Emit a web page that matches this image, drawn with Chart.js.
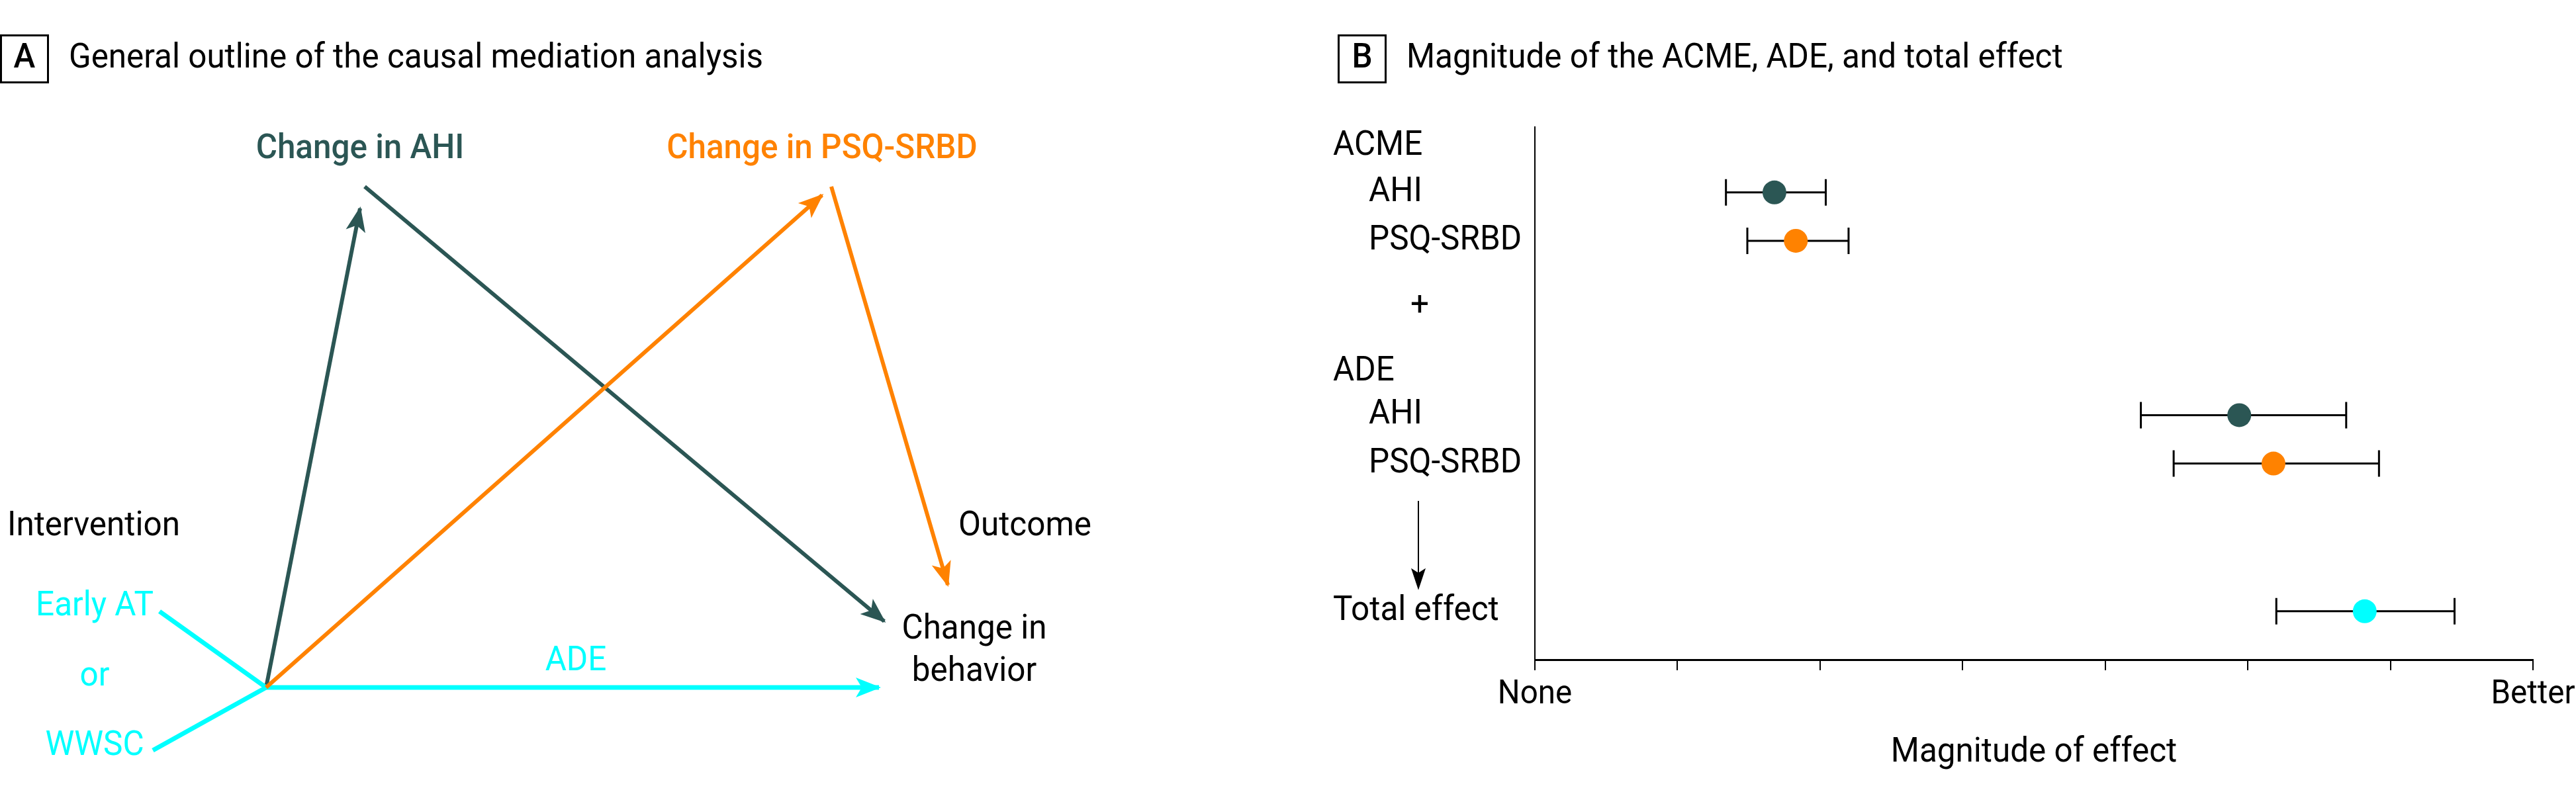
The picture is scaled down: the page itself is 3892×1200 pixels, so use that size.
<!DOCTYPE html>
<html>
<head>
<meta charset="utf-8">
<title>Causal mediation analysis</title>
<script src="https://cdn.jsdelivr.net/npm/chart.js@4.4.1/dist/chart.umd.min.js"></script>
<style>
  html, body { margin: 0; padding: 0; background: #fff; }
  #wrap { position: relative; width: 3892px; height: 1200px; overflow: hidden; }
  canvas { position: absolute; top: 0; }
  #panelA { left: 0; }
  #panelB { left: 1950px; }
</style>
</head>
<body>
<div id="wrap">
  <canvas id="panelA" width="1950" height="1200"></canvas>
  <canvas id="panelB" width="1942" height="1200"></canvas>
</div>
<script>
// --- DATA: panel A, paths of the mediation diagram (diagram units) ---
const pathNames = ['Early AT', 'WWSC', 'ADE', 'Intervention to AHI', 'AHI to behavior', 'Intervention to PSQ-SRBD', 'PSQ-SRBD to behavior'];
const pathFromX = [241, 231, 402, 402, 551, 402, 1256];
const pathFromY = [924, 1134, 1039, 1039, 282, 1039, 282];
const pathToX = [402, 402, 1328, 544, 1336, 1242, 1432];
const pathToY = [1039, 1039, 1039, 315, 939, 295, 884];

// --- DATA: panel B, effect estimates with intervals ---
const rowLabels = ['ACME', 'AHI', 'PSQ-SRBD', '+', 'ADE', 'AHI', 'PSQ-SRBD', 'Total effect'];
const rowPos = [0.4, 1.35, 2.35, 3.7, 5.05, 5.95, 6.95, 10.0];
const effectRow = [1, 2, 5, 6, 7];
const estimate = [1.68, 1.83, 4.94, 5.18, 5.82];
const lower = [1.34, 1.49, 4.25, 4.48, 5.20];
const upper = [2.04, 2.20, 5.69, 5.92, 6.45];
const tickLabels = ['None', '', '', '', '', '', '', 'Better'];

// --- STYLE ---
const TEAL = '#2b5654';
const ORANGE = '#ff8200';
const CYAN = '#00ffff';
const FONT = 'Roboto, "Liberation Sans", sans-serif';
const pathColor = [CYAN, CYAN, CYAN, TEAL, TEAL, ORANGE, ORANGE];
const pathWidth = [7, 7, 7, 6, 6, 6, 6];
const pathArrow = [false, false, true, true, true, true, true];
const effectColor = [TEAL, ORANGE, TEAL, ORANGE, CYAN];

// condensed lettering: squeeze a normal face to the width of the reference titles
const probe = document.createElement('canvas').getContext('2d');
probe.font = `400 52px ${FONT}`;
const squeeze = 1049 / probe.measureText('General outline of the causal mediation analysis').width;

function label(ctx, str, x, y, o = {}) {
  ctx.save();
  ctx.font = `${o.weight || 400} ${o.size || 52}px ${FONT}`;
  ctx.fillStyle = o.color || '#000';
  ctx.textAlign = o.align || 'left';
  ctx.textBaseline = 'middle';
  ctx.translate(x, y);
  ctx.scale(squeeze, 1);
  ctx.fillText(str, 0, 0);
  ctx.restore();
}

function panelTitle(ctx, letter, boxX, text) {
  ctx.save();
  ctx.strokeStyle = '#000';
  ctx.lineWidth = 3;
  ctx.strokeRect(boxX + 1.5, 53.5, 71, 71);
  ctx.restore();
  label(ctx, letter, boxX + 37, 89, { align: 'center', weight: 500 });
  label(ctx, text, boxX + 104, 89);
}

function arrowHead(ctx, x0, y0, x1, y1, len, half, notch, color) {
  const a = Math.atan2(y1 - y0, x1 - x0);
  ctx.save();
  ctx.translate(x1, y1);
  ctx.rotate(a);
  ctx.beginPath();
  ctx.moveTo(3, 0);
  ctx.lineTo(-len, -half);
  ctx.lineTo(-len + notch, 0);
  ctx.lineTo(-len, half);
  ctx.closePath();
  ctx.fillStyle = color;
  ctx.fill();
  ctx.restore();
}

// --- PANEL A ---
const diagramLabels = [
  { text: 'Change in AHI', x: 544, y: 226, align: 'center', color: TEAL, weight: 500 },
  { text: 'Change in PSQ-SRBD', x: 1242, y: 226, align: 'center', color: ORANGE, weight: 500 },
  { text: 'Intervention', x: 11, y: 796 },
  { text: 'Outcome', x: 1448, y: 796 },
  { text: 'Change in', x: 1472, y: 952, align: 'center' },
  { text: 'behavior', x: 1472, y: 1016, align: 'center' },
  { text: 'Early AT', x: 143, y: 917, align: 'center', color: CYAN },
  { text: 'or', x: 143, y: 1023, align: 'center', color: CYAN },
  { text: 'WWSC', x: 143, y: 1128, align: 'center', color: CYAN },
  { text: 'ADE', x: 870, y: 1000, align: 'center', color: CYAN }
];

const diagramPlugin = {
  id: 'diagram',
  afterDatasetsDraw(chart) {
    const { ctx, scales: { x, y } } = chart;
    pathNames.forEach((n, i) => {
      if (!pathArrow[i]) return;
      arrowHead(ctx,
        x.getPixelForValue(pathFromX[i]), y.getPixelForValue(pathFromY[i]),
        x.getPixelForValue(pathToX[i]), y.getPixelForValue(pathToY[i]),
        35, 15, 9, pathColor[i]);
    });
    diagramLabels.forEach(l => {
      label(ctx, l.text, x.getPixelForValue(l.x), y.getPixelForValue(l.y), l);
    });
    panelTitle(ctx, 'A', 0, 'General outline of the causal mediation analysis');
  }
};

new Chart(document.getElementById('panelA'), {
  type: 'scatter',
  data: {
    datasets: pathNames.map((n, i) => ({
      label: n,
      data: [{ x: pathFromX[i], y: pathFromY[i] }, { x: pathToX[i], y: pathToY[i] }],
      showLine: true,
      borderColor: pathColor[i],
      borderWidth: pathWidth[i],
      borderCapStyle: 'butt',
      pointRadius: 0,
      order: pathColor[i] === ORANGE ? 0 : 1
    }))
  },
  options: {
    responsive: false,
    animation: false,
    events: [],
    layout: { padding: 0 },
    plugins: { legend: { display: false }, tooltip: { enabled: false } },
    scales: {
      x: { type: 'linear', display: false, min: 0, max: 1950 },
      y: { type: 'linear', display: false, min: 0, max: 1200, reverse: true }
    }
  },
  plugins: [diagramPlugin]
});

// --- PANEL B ---
const forestPlugin = {
  id: 'forest',
  beforeDatasetsDraw(chart) {
    const { ctx, scales: { x, y } } = chart;
    ctx.save();
    ctx.strokeStyle = '#000';
    ctx.lineWidth = 3;
    estimate.forEach((v, i) => {
      const py = y.getPixelForValue(rowPos[effectRow[i]]);
      const x0 = x.getPixelForValue(lower[i]);
      const x1 = x.getPixelForValue(upper[i]);
      ctx.beginPath();
      ctx.moveTo(x0, py); ctx.lineTo(x1, py);
      ctx.moveTo(x0, py - 20); ctx.lineTo(x0, py + 20);
      ctx.moveTo(x1, py - 20); ctx.lineTo(x1, py + 20);
      ctx.stroke();
    });
    ctx.restore();
  },
  afterDraw(chart) {
    const { ctx, chartArea, scales: { x, y } } = chart;
    rowLabels.forEach((t, i) => {
      const py = y.getPixelForValue(rowPos[i]);
      if (t === '+') label(ctx, t, 195, py, { align: 'center' });
      else if (effectRow.includes(i) && t !== 'Total effect') label(ctx, t, 118, py);
      else label(ctx, t, 64, py);
    });
    // arrow from the components to the total effect
    const ay0 = y.getPixelForValue(7.72);
    const ay1 = y.getPixelForValue(9.52);
    ctx.save();
    ctx.strokeStyle = '#000';
    ctx.lineWidth = 2;
    ctx.beginPath();
    ctx.moveTo(193, ay0); ctx.lineTo(193, ay1 - 12);
    ctx.stroke();
    ctx.restore();
    arrowHead(ctx, 193, ay0, 193, ay1, 30, 11, 7, '#000');
    tickLabels.forEach((t, i) => {
      if (t) label(ctx, t, x.getPixelForValue(i), chartArea.bottom + 53, { align: 'center', size: 50 });
    });
    label(ctx, 'Magnitude of effect', (chartArea.left + chartArea.right) / 2, 1138, { align: 'center' });
    panelTitle(ctx, 'B', 71, 'Magnitude of the ACME, ADE, and total effect');
  }
};

new Chart(document.getElementById('panelB'), {
  type: 'scatter',
  data: {
    datasets: [{
      label: 'Effect',
      data: estimate.map((v, i) => ({ x: v, y: rowPos[effectRow[i]] })),
      pointRadius: 18,
      pointBackgroundColor: effectColor,
      pointBorderWidth: 0
    }]
  },
  options: {
    responsive: false,
    animation: false,
    events: [],
    layout: { padding: { left: 369, right: 65, top: 192, bottom: 203 } },
    plugins: { legend: { display: false }, tooltip: { enabled: false } },
    scales: {
      x: {
        type: 'linear', min: 0, max: 7,
        ticks: { display: false, stepSize: 1 },
        grid: { drawOnChartArea: false, drawTicks: true, tickLength: 16, color: '#000', lineWidth: 2 },
        border: { display: true, color: '#000', width: 3 },
        afterFit: s => { s.height = 0; }
      },
      y: {
        type: 'linear', min: 0, max: 11, reverse: true,
        ticks: { display: false },
        grid: { drawOnChartArea: false, drawTicks: false },
        border: { display: true, color: '#000', width: 2 },
        afterFit: s => { s.width = 0; }
      }
    }
  },
  plugins: [forestPlugin]
});
</script>
</body>
</html>
